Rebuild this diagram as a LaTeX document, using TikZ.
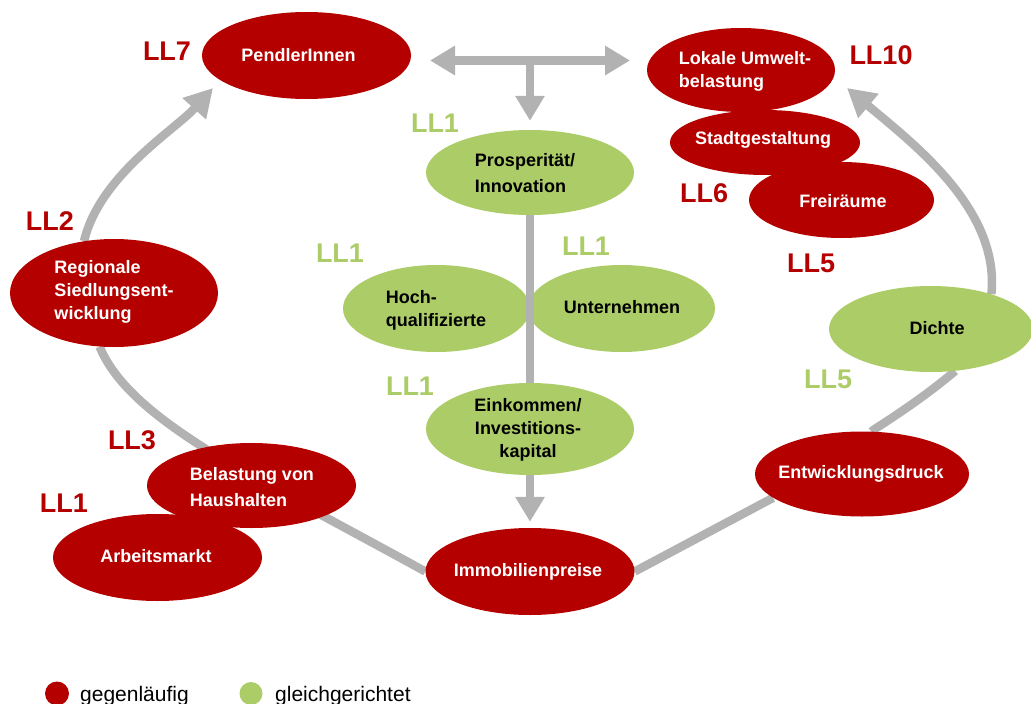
\documentclass[tikz,border=0pt]{standalone}
\usepackage{fontspec}
\setmainfont{Liberation Sans}
\usetikzlibrary{arrows.meta,backgrounds,shapes.geometric}
\definecolor{dred}{RGB}{181,0,0}
\definecolor{lgreen}{RGB}{172,204,104}
\definecolor{agray}{RGB}{178,178,178}
\begin{document}
\begin{tikzpicture}[x=1pt,y=-1pt,
  redell/.style={ellipse,fill=dred,inner sep=0pt},
  greenell/.style={ellipse,fill=lgreen,inner sep=0pt},
  wt/.style={text=white,inner sep=0pt,font=\fontsize{18}{23}\selectfont\bfseries},
  bt/.style={text=black,inner sep=0pt,font=\fontsize{18}{23}\selectfont\bfseries},
  llr/.style={text=dred,inner sep=0pt,font=\fontsize{27}{30}\selectfont\bfseries},
  llg/.style={text=lgreen,inner sep=0pt,font=\fontsize{27}{30}\selectfont\bfseries},
  leg/.style={text=black,inner sep=0pt,anchor=base west,font=\fontsize{21}{24}\selectfont},
  conn/.style={draw=agray,line width=8.5pt},
  bigend/.style={-{Triangle[length=28pt,width=30pt]}},
  smallend/.style={-{Triangle[length=25pt,width=28pt]}},
]
\useasboundingbox (0,0) rectangle (1031,704);
\clip (0,0) rectangle (1031,704);

% red ellipses
\node[redell,minimum width=209pt,minimum height=87pt] (pend) at (306.5,55.5) {};
\node[redell,minimum width=188pt,minimum height=84pt] (lok) at (741,70) {};
\node[redell,minimum width=190pt,minimum height=65pt] (stadt) at (765,142.5) {};
\node[redell,minimum width=185pt,minimum height=76pt] (frei) at (841.5,200) {};
\node[redell,minimum width=208pt,minimum height=108pt] (reg) at (114,293) {};
\node[redell,minimum width=209pt,minimum height=85pt] (bel) at (251.5,485.5) {};
\node[redell,minimum width=209pt,minimum height=87pt] (arb) at (157.5,557.5) {};
\node[redell,minimum width=209pt,minimum height=87pt] (imm) at (530,571.5) {};
\node[redell,minimum width=214pt,minimum height=85pt] (entw) at (862,474) {};
% green ellipses
\node[greenell,minimum width=208pt,minimum height=85pt] (pros) at (530,172.5) {};
\node[greenell,minimum width=187pt,minimum height=87pt] (hoch) at (436.5,308.5) {};
\node[greenell,minimum width=187pt,minimum height=87pt] (unt) at (621.5,308.5) {};
\node[greenell,minimum width=208pt,minimum height=92pt] (eink) at (530,429) {};
\node[greenell,minimum width=204pt,minimum height=86pt] (dichte) at (931,329) {};

% connectors behind the ellipses
\begin{scope}[on background layer]
  \draw[conn,bigend] (reg.120) .. controls (100,175) and (175,130) .. (213,88);
  \draw[conn] (reg.255) .. controls (130,420) and (250,475) .. (imm.west);
  \draw[conn] (imm.east) -- (entw.195);
  \draw[conn] (entw) .. controls (872,430) and (915,405) .. (dichte.300);
  \draw[conn,bigend] (dichte.30) .. controls (1000,210) and (915,145) .. (847,88);
\end{scope}

% top arrows
\coordinate (tl) at (430,60.5);
\coordinate (tr) at (630,60.5);
\coordinate (tm) at (530,60.5);
\draw[conn,{Triangle[length=25pt,width=28pt]}-{Triangle[length=25pt,width=28pt]}] (tl) -- (tr);
\draw[conn,smallend,shorten >=9pt] (tm) -- (pros.north);
% central axis
\draw[conn] (pros.south) -- (eink.north);
\draw[conn,smallend,shorten >=6pt] (eink.south) -- (imm.north);

% texts in ellipses
\node[wt] (pendt) at (298.5,55) {PendlerInnen};
\node[wt,align=left] (lokt) at (745,71) {Lokale Umwelt-\\belastung};
\node[wt] (stadtt) at (763,140) {Stadtgestaltung};
\node[wt] (freit) at (843,201) {Freiräume};
\node[wt,align=left] (regt) at (114,292) {Regionale\\Siedlungsent-\\wicklung};
\node[wt,align=left,font=\fontsize{18}{26}\selectfont\bfseries] (belt) at (252,487) {Belastung von\\Haushalten};
\node[wt] (arbt) at (156,556) {Arbeitsmarkt};
\node[wt] (immt) at (528,572) {Immobilienpreise};
\node[wt] (entwt) at (861,474) {Entwicklungsdruck};
\node[bt,align=left,font=\fontsize{18}{26}\selectfont\bfseries] (prost) at (525,173) {Prosperität/\\Innovation};
\node[bt,align=left] (hocht) at (436,310) {Hoch-\\qualifizierte};
\node[bt] (untt) at (622,307) {Unternehmen};
\node[bt,align=center] (einkt) at (528,430) {Einkommen/\\Investitions-\\kapital};
\node[bt] (dichtet) at (937,328) {Dichte};

% LL labels
\node[llr] (ll7) at (167,51) {LL7};
\node[llr] (ll2) at (50,221) {LL2};
\node[llr] (ll3) at (132,440) {LL3};
\node[llr] (ll1r) at (64,503) {LL1};
\node[llr] (ll10) at (881,55) {LL10};
\node[llr] (ll6) at (704,193) {LL6};
\node[llr] (ll5r) at (811,263) {LL5};
\node[llg] (ll1a) at (435,123) {LL1};
\node[llg] (ll1b) at (340,253) {LL1};
\node[llg] (ll1c) at (586,246) {LL1};
\node[llg] (ll1d) at (410,386) {LL1};
\node[llg] (ll5g) at (828,379) {LL5};

% legend
\fill[dred] (57,693.5) circle (12pt);
\node[leg] (legr) at (80,701) {gegenläufig};
\fill[lgreen] (251,693.5) circle (11.5pt);
\node[leg] (legg) at (275,701) {gleichgerichtet};
\end{tikzpicture}
\end{document}
